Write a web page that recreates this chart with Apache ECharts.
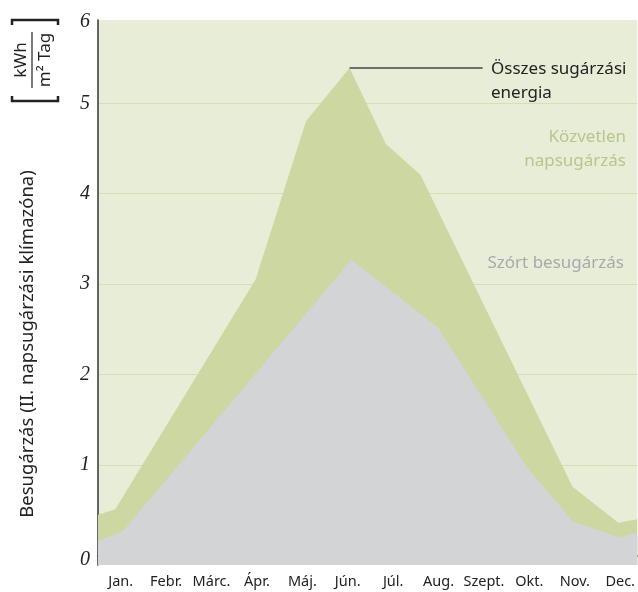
<!DOCTYPE html>
<html>
<head>
<meta charset="utf-8">
<script src="https://cdn.jsdelivr.net/npm/echarts@6/dist/echarts.min.js"></script>
<style>
html,body{margin:0;padding:0;background:#fff;}
#c{width:638px;height:592px;}
</style>
</head>
<body>
<div id="c"></div>
<script>
// Month labels (x axis, month units: 0 = start of January)
var months = ['Jan.', 'Febr.', 'Márc.', 'Ápr.', 'Máj.', 'Jún.', 'Júl.', 'Aug.', 'Szept.', 'Okt.', 'Nov.', 'Dec.'];
var monthTicks = [0, 1, 2, 3, 4, 5, 6, 7, 8, 9, 10, 11];
var monthLabelPos = [0.5, 1.5, 2.5, 3.5, 4.5, 5.5, 6.5, 7.5, 8.5, 9.5, 10.5, 11.5];

// Total radiation (upper outline), [month position, kWh/(m² Tag)]
var totalX = [0, 0.38, 3.47, 4.58, 5.54, 6.34, 7.10, 10.45, 11.46, 11.875];
var totalY = [0.45, 0.51, 3.05, 4.80, 5.39, 4.55, 4.21, 0.76, 0.36, 0.40];

// Diffuse radiation (lower outline)
var diffuseX = [0, 0.55, 5.58, 7.49, 9.44, 10.45, 11.46, 11.875];
var diffuseY = [0.16, 0.27, 3.27, 2.52, 0.98, 0.38, 0.20, 0.25];

// Y axis
var yMin = -0.106, yMax = 5.921;
var yGridValues = [1, 2, 3, 4, 5];
var yLabelValues = [-0.05, 1, 2, 3, 4, 5, 5.9];

// Annotation leader line for the peak
var leaderStart = [5.54, 5.39];
var leaderEnd = [8.47, 5.39];

function pairs(xs, ys) { return xs.map(function (x, i) { return [x, ys[i]]; }); }

var chart = echarts.init(document.getElementById('c'), null, {renderer: 'canvas'});
var sans = '"Noto Sans", sans-serif';

chart.setOption({
  animation: false,
  grid: {
    left: 98, right: 0, top: 20, bottom: 27,
    show: true, backgroundColor: '#e8edd8', borderWidth: 0
  },
  xAxis: {
    type: 'value', min: 0, max: 11.875,
    axisLine: {show: true, lineStyle: {color: '#333', width: 1.5}},
    axisTick: {show: true, customValues: monthTicks, length: 6, lineStyle: {color: '#333', width: 1.2}},
    axisLabel: {
      customValues: monthLabelPos,
      formatter: function (v) { return months[Math.floor(v)]; },
      color: '#222', fontFamily: sans, fontSize: 14.5, margin: 9
    },
    splitLine: {show: false}
  },
  yAxis: {
    type: 'value', min: yMin, max: yMax,
    axisLine: {show: true, lineStyle: {color: '#333', width: 1.5}},
    axisTick: {show: false, customValues: yGridValues},
    axisLabel: {
      customValues: yLabelValues,
      formatter: function (v) { return String(Math.abs(Math.round(v))); },
      color: '#222', fontFamily: '"Liberation Serif", serif', fontStyle: 'italic',
      fontSize: 20, margin: 8
    },
    splitLine: {show: true, lineStyle: {color: '#d5dfb6', width: 1.2}}
  },
  series: [
    {
      type: 'line', name: 'Összes', data: pairs(totalX, totalY),
      symbol: 'none', lineStyle: {width: 0, opacity: 0},
      areaStyle: {color: '#ccd7a2', origin: 'start', opacity: 1},
      z: 2,
      markLine: {
        silent: true, symbol: 'none',
        label: {show: false},
        lineStyle: {color: '#444', width: 1.5, type: 'solid'},
        data: [[{coord: leaderStart}, {coord: leaderEnd}]]
      }
    },
    {
      type: 'line', name: 'Szórt', data: pairs(diffuseX, diffuseY),
      symbol: 'none', lineStyle: {width: 0, opacity: 0},
      areaStyle: {color: '#d3d4d6', origin: 'start', opacity: 1},
      z: 3
    }
  ],
  graphic: [
    {type: 'text', x: 491, y: 69, style: {text: 'Összes sugárzási', fill: '#222', font: '17px ' + sans, align: 'left', verticalAlign: 'middle'}},
    {type: 'text', x: 491, y: 93, style: {text: 'energia', fill: '#222', font: '17px ' + sans, align: 'left', verticalAlign: 'middle'}},
    {type: 'text', x: 626, y: 137, style: {text: 'Közvetlen', fill: '#b5c78a', font: '17px ' + sans, align: 'right', verticalAlign: 'middle'}},
    {type: 'text', x: 626, y: 161, style: {text: 'napsugárzás', fill: '#b5c78a', font: '17px ' + sans, align: 'right', verticalAlign: 'middle'}},
    {type: 'text', x: 624, y: 263, style: {text: 'Szórt besugárzás', fill: '#a7a9ad', font: '17px ' + sans, align: 'right', verticalAlign: 'middle'}},
    {type: 'text', x: 28, y: 344, rotation: Math.PI / 2,
      style: {text: 'Besugárzás (II. napsugárzási klímazóna)', fill: '#222', font: '18.5px ' + sans, align: 'center', verticalAlign: 'middle'}},
    {
      type: 'group', x: 35, y: 60, rotation: Math.PI / 2,
      children: [
        {type: 'polyline', shape: {points: [[-36, -23], [-41, -23], [-41, 23], [-36, 23]]}, style: {stroke: '#222', lineWidth: 2.5, fill: null}},
        {type: 'polyline', shape: {points: [[35, -23], [40, -23], [40, 23], [35, 23]]}, style: {stroke: '#222', lineWidth: 2.5, fill: null}},
        {type: 'line', shape: {x1: -28, y1: -3, x2: 28, y2: -3}, style: {stroke: '#222', lineWidth: 1.2}},
        {type: 'text', x: 0, y: -14, style: {text: 'kWh', fill: '#222', font: '17px ' + sans, align: 'center', verticalAlign: 'middle'}},
        {type: 'text', x: 0, y: 10, style: {text: 'm² Tag', fill: '#222', font: '17px ' + sans, align: 'center', verticalAlign: 'middle'}}
      ]
    }
  ]
});
</script>
</body>
</html>
